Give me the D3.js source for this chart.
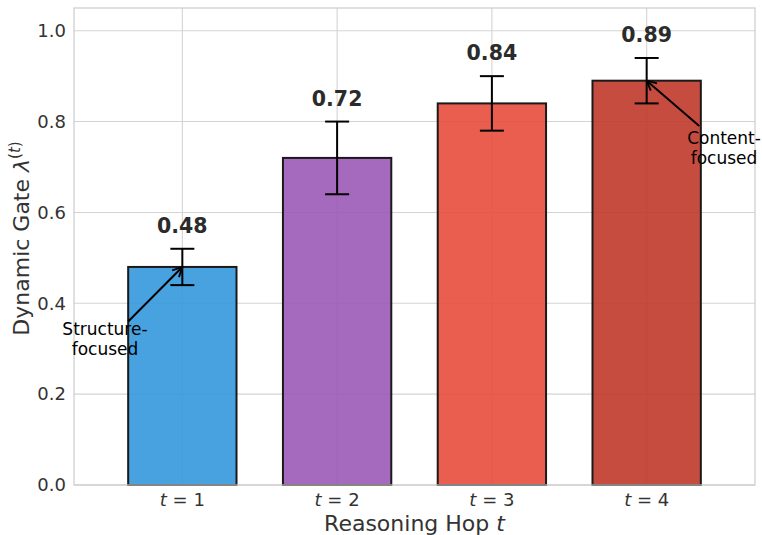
<!DOCTYPE html>
<html>
<head>
<meta charset="utf-8">
<script src="https://cdn.jsdelivr.net/npm/d3@7"></script>
<style>
body { margin: 0; background: #fff; }
text { font-family: "DejaVu Sans", sans-serif; }
</style>
</head>
<body>
<script>
var hops = [1, 2, 3, 4];
var gate = [0.48, 0.72, 0.84, 0.89];
var errLow = [0.44, 0.64, 0.78, 0.84];
var errHigh = [0.52, 0.80, 0.90, 0.94];
var colors = ["#3498db", "#9b59b6", "#e74c3c", "#c0392b"];
var yTicks = [0, 0.2, 0.4, 0.6, 0.8, 1.0];

var margin = {top: 8, right: 7, bottom: 50, left: 74},
    width = 762 - margin.left - margin.right,
    height = 535 - margin.top - margin.bottom;

var svg = d3.select("body").append("svg")
    .attr("width", 762)
    .attr("height", 535);

var g = svg.append("g")
    .attr("transform", "translate(" + margin.left + "," + margin.top + ")");

// x as a linear scale like matplotlib positions
var x = d3.scaleLinear().domain([-0.7, 3.7]).range([0, width]);
var y = d3.scaleLinear().domain([0, 1.05]).range([height, 0]);
var barW = x(0.35) - x(-0.35);

// grid
g.selectAll(".hgrid").data(yTicks).enter().append("line")
    .attr("x1", 0).attr("x2", width)
    .attr("y1", d => y(d)).attr("y2", d => y(d))
    .attr("stroke", "#d4d4d4").attr("stroke-width", 1.1);
g.selectAll(".vgrid").data(hops).enter().append("line")
    .attr("x1", (d, i) => x(i)).attr("x2", (d, i) => x(i))
    .attr("y1", 0).attr("y2", height)
    .attr("stroke", "#d4d4d4").attr("stroke-width", 1.1);

// bars
g.selectAll(".bar").data(gate).enter().append("rect")
    .attr("x", (d, i) => x(i) - barW / 2)
    .attr("y", d => y(d))
    .attr("width", barW)
    .attr("height", d => height - y(d))
    .attr("fill", (d, i) => colors[i])
    .attr("fill-opacity", 0.9)
    .attr("stroke", "#1a1a1a")
    .attr("stroke-width", 2);

// error bars
var cap = 12;
hops.forEach(function(h, i) {
  var cx = x(i);
  g.append("line").attr("x1", cx).attr("x2", cx)
    .attr("y1", y(errLow[i])).attr("y2", y(errHigh[i]))
    .attr("stroke", "#000").attr("stroke-width", 2);
  [errLow[i], errHigh[i]].forEach(function(v) {
    g.append("line").attr("x1", cx - cap).attr("x2", cx + cap)
      .attr("y1", y(v)).attr("y2", y(v))
      .attr("stroke", "#000").attr("stroke-width", 2);
  });
  g.append("text")
    .attr("x", cx).attr("y", y(errHigh[i]) - 16)
    .attr("text-anchor", "middle")
    .attr("font-size", 20.5).attr("font-weight", "bold")
    .attr("fill", "#2b2b2b")
    .text(gate[i].toFixed(2));
});

// frame
g.append("rect").attr("width", width).attr("height", height)
    .attr("fill", "none").attr("stroke", "#cccccc").attr("stroke-width", 1.2);

// y ticks
g.selectAll(".ytick").data(yTicks).enter().append("text")
    .attr("x", -8).attr("y", d => y(d)).attr("dy", "0.35em")
    .attr("text-anchor", "end")
    .attr("font-size", 18).attr("fill", "#333")
    .text(d => d.toFixed(1));

// x ticks
var xt = g.selectAll(".xtick").data(hops).enter().append("text")
    .attr("x", (d, i) => x(i)).attr("y", height + 21)
    .attr("text-anchor", "middle")
    .attr("font-size", 18).attr("fill", "#333");
xt.append("tspan").attr("font-style", "italic").text("t");
xt.append("tspan").text(d => " = " + d);

// axis labels
var xl = svg.append("text")
    .attr("x", margin.left + width / 2).attr("y", 531)
    .attr("text-anchor", "middle")
    .attr("font-size", 22).attr("fill", "#333");
xl.append("tspan").text("Reasoning Hop ");
xl.append("tspan").attr("font-style", "italic").text("t");

var yl = svg.append("text")
    .attr("transform", "translate(29," + (margin.top + height / 2 - 8) + ") rotate(-90)")
    .attr("text-anchor", "middle")
    .attr("font-size", 22).attr("fill", "#333");
yl.append("tspan").text("Dynamic Gate ");
yl.append("tspan").attr("font-style", "italic").text("\u03bb");
yl.append("tspan").attr("font-size", 15).attr("dy", -9).text("(");
yl.append("tspan").attr("font-size", 15).attr("font-style", "italic").text("t");
yl.append("tspan").attr("font-size", 15).text(")");

// annotations
svg.append("defs").append("marker")
    .attr("id", "arr").attr("viewBox", "0 0 10 10")
    .attr("refX", 9).attr("refY", 5)
    .attr("markerWidth", 6).attr("markerHeight", 6)
    .attr("orient", "auto")
  .append("path").attr("d", "M1,1 L9,5 L1,9")
    .attr("fill", "none").attr("stroke", "#000").attr("stroke-width", 1.6);

function annotate(tx, ty, ax, ay, lines, sx, sy) {
  g.append("line")
    .attr("x1", x(sx)).attr("y1", y(sy))
    .attr("x2", x(ax)).attr("y2", y(ay))
    .attr("stroke", "#000").attr("stroke-width", 2)
    .attr("marker-end", "url(#arr)");
  var t = g.append("text")
    .attr("text-anchor", "middle")
    .attr("font-size", 17).attr("fill", "#000");
  lines.forEach(function(l, k) {
    t.append("tspan").attr("x", x(tx)).attr("y", y(ty) + k * 20).text(l);
  });
}
annotate(-0.5, 0.33, 0, 0.48, ["Structure-", "focused"], -0.35, 0.36);
annotate(3.5, 0.75, 3, 0.89, ["Content-", "focused"], 3.34, 0.79);
</script>
</body>
</html>
